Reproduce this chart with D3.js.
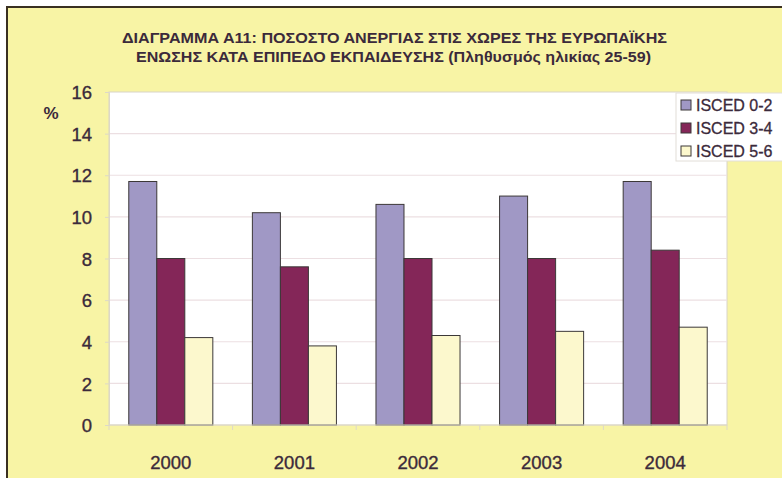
<!DOCTYPE html>
<html><head><meta charset="utf-8">
<script src="https://cdn.jsdelivr.net/npm/d3@7"></script>
<style>html,body{margin:0;padding:0;background:#fff;}svg{display:block;}</style>
</head><body>
<svg id="c" width="782" height="478"></svg>
<script>
const titleLines = ["ΔΙΑΓΡΑΜΜΑ Α11: ΠΟΣΟΣΤΟ ΑΝΕΡΓΙΑΣ ΣΤΙΣ ΧΩΡΕΣ ΤΗΣ ΕΥΡΩΠΑΪΚΗΣ",
                    "ΕΝΩΣΗΣ ΚΑΤΑ ΕΠΙΠΕΔΟ ΕΚΠΑΙΔΕΥΣΗΣ (Πληθυσμός ηλικίας 25-59)"];
const years = ["2000","2001","2002","2003","2004"];
const seriesNames = ["ISCED 0-2","ISCED 3-4","ISCED 5-6"];
const isced02 = [11.7,10.2,10.6,11.0,11.7];
const isced34 = [8.0,7.6,8.0,8.0,8.4];
const isced56 = [4.2,3.8,4.3,4.5,4.7];
const yTicks = [0,2,4,6,8,10,12,14,16];
const colors = ["#a098c5","#842658","#fcf8cd"];

const svg = d3.select("#c");
const textCol = "#3b2a3b";
const FF = "Liberation Sans, Arial, sans-serif";
svg.append("rect").attr("x",7).attr("y",7).attr("width",775).attr("height",471).attr("fill","#f8f4a5");
svg.append("line").attr("x1",7).attr("x2",7).attr("y1",6).attr("y2",478).attr("stroke","#3a3020").attr("stroke-width",2);
svg.append("line").attr("x1",6).attr("x2",782).attr("y1",7).attr("y2",7).attr("stroke","#3a3020").attr("stroke-width",2);

const titleW = [545, 515];
svg.selectAll("text.title").data(titleLines).enter().append("text")
  .attr("x",(d,i)=>(i===0?122:136)).attr("y",(d,i)=>43+i*19)
  .attr("textLength",(d,i)=>titleW[i]).attr("lengthAdjust","spacingAndGlyphs")
  .attr("font-family",FF).attr("font-weight","bold")
  .attr("font-size",14.5).attr("fill",textCol).text(d=>d);

const L=109,R=727,T=92,B=425;
const x = d3.scaleBand().domain(years).range([L,R]).paddingInner(0.32).paddingOuter(0.16);
const xs = d3.scaleBand().domain(seriesNames).range([0,x.bandwidth()]);
const y = d3.scaleLinear().domain([0,16]).range([B,T]);

svg.append("rect").attr("x",L).attr("y",T).attr("width",R-L).attr("height",B-T).attr("fill","#fff").attr("stroke","#d8d4c8").attr("stroke-width",1);
svg.selectAll("line.grid").data(yTicks.filter(v=>v>0&&v<16)).enter().append("line")
  .attr("x1",L).attr("x2",R).attr("y1",d=>y(d)).attr("y2",d=>y(d)).attr("stroke","#ecdfe2").attr("stroke-width",1.2);

const yAxis = d3.axisLeft(y).tickValues(yTicks).tickSize(4).tickPadding(13);
const gy = svg.append("g").attr("transform",`translate(${L},0)`).call(yAxis);
gy.select(".domain").attr("stroke","#ddd8c8");
gy.selectAll(".tick line").attr("stroke","#ddd8c8");
gy.selectAll("text").attr("font-family",FF).attr("font-size",18.5).attr("fill",textCol)
  .attr("stroke",textCol).attr("stroke-width",0.35).attr("dy","0.36em");

svg.append("text").attr("x",51).attr("y",119).attr("text-anchor","middle")
  .attr("font-family",FF).attr("font-weight","bold").attr("font-size",17).attr("fill",textCol).text("%");

const data = years.map((yr,i)=>({year:yr, vals:[isced02[i],isced34[i],isced56[i]]}));
const g = svg.selectAll("g.grp").data(data).enter().append("g").attr("transform",d=>`translate(${x(d.year)},0)`);
g.selectAll("rect").data(d=>d.vals.map((v,k)=>({v,k}))).enter().append("rect")
  .attr("x",d=>xs(seriesNames[d.k])).attr("width",xs.bandwidth())
  .attr("y",d=>y(d.v)).attr("height",d=>B-y(d.v))
  .attr("fill",d=>colors[d.k]).attr("stroke","#3c3838").attr("stroke-width",1);

svg.append("line").attr("x1",L).attr("x2",R).attr("y1",B).attr("y2",B).attr("stroke","#ddd8c8");
const step = (R-L)/years.length;
svg.selectAll("line.xt").data(d3.range(years.length+1)).enter().append("line")
  .attr("x1",i=>L+i*step).attr("x2",i=>L+i*step).attr("y1",B).attr("y2",B+5).attr("stroke","#ddd8c8");
svg.selectAll("text.xl").data(years).enter().append("text")
  .attr("x",d=>x(d)+x.bandwidth()/2).attr("y",469).attr("text-anchor","middle")
  .attr("font-family",FF).attr("font-size",18.5).attr("fill",textCol)
  .attr("stroke",textCol).attr("stroke-width",0.35).text(d=>d);

const lg = svg.append("g");
lg.append("rect").attr("x",676).attr("y",93).attr("width",110).attr("height",68).attr("fill","#fff").attr("stroke","#e2ded8");
const li = lg.selectAll("g").data(seriesNames).enter().append("g").attr("transform",(d,i)=>`translate(681,${105+i*23})`);
li.append("rect").attr("x",0).attr("y",-5).attr("width",10).attr("height",10).attr("fill",(d,i)=>colors[i]).attr("stroke","#3c3838");
li.append("text").attr("x",15).attr("y",6).attr("font-family",FF).attr("font-size",16).attr("fill",textCol)
  .attr("stroke",textCol).attr("stroke-width",0.3).text(d=>d);
</script>
</body></html>
